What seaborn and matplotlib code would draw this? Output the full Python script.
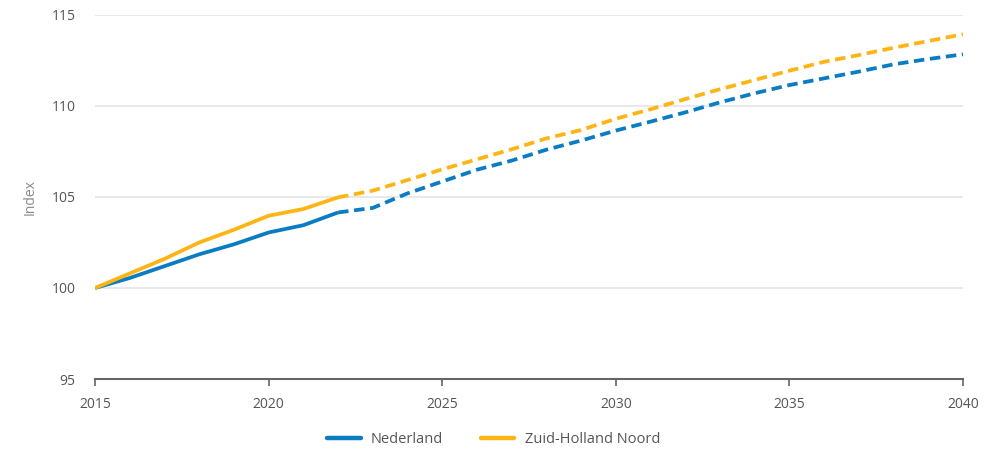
import matplotlib
matplotlib.use("Agg")
import matplotlib.pyplot as plt
from matplotlib.lines import Line2D
import seaborn as sns
import pandas as pd

# Population index (2015 = 100); observed through 2022, forecast afterwards
years = list(range(2015, 2041))
nederland = [100.0, 100.55, 101.2, 101.85, 102.4, 103.05, 103.45, 104.15,
             104.4, 105.2, 105.85, 106.5, 107.0, 107.6, 108.1, 108.65,
             109.14, 109.65, 110.2, 110.7, 111.15, 111.52, 111.89, 112.29,
             112.58, 112.84]
zuid_holland_noord = [100.0, 100.8, 101.6, 102.5, 103.2, 103.97, 104.34, 104.98,
                      105.35, 105.93, 106.52, 107.07, 107.62, 108.22, 108.68, 109.3,
                      109.82, 110.38, 110.92, 111.43, 111.94, 112.43, 112.8, 113.2,
                      113.57, 113.94]
last_observed = 2022
series_names = ["Nederland", "Zuid-Holland Noord"]
colors = {"Nederland": "#0a7cc4", "Zuid-Holland Noord": "#fdb515"}
y_ticks = [95, 100, 105, 110, 115]
x_ticks = [2015, 2020, 2025, 2030, 2035, 2040]

df = pd.concat([
    pd.DataFrame({"jaar": years, "index": nederland, "regio": "Nederland"}),
    pd.DataFrame({"jaar": years, "index": zuid_holland_noord, "regio": "Zuid-Holland Noord"}),
])
observed = df[df["jaar"] <= last_observed]
forecast = df[df["jaar"] >= last_observed]

sns.set_theme(style="white")
plt.rcParams["font.family"] = ["Open Sans", "DejaVu Sans"]

fig = plt.figure(figsize=(9.93, 4.49), dpi=100)
ax = fig.add_axes([0.0957, 0.1559, 0.8741, 0.8107])

lw = 2.7
sns.lineplot(data=observed, x="jaar", y="index", hue="regio", hue_order=series_names,
             palette=colors, linewidth=lw, legend=False, ax=ax,
             solid_capstyle="butt", solid_joinstyle="round")
sns.lineplot(data=forecast, x="jaar", y="index", hue="regio", hue_order=series_names,
             palette=colors, linewidth=lw, legend=False, ax=ax)
for line in ax.lines[2:]:
    line.set_linestyle((0, (2.8, 1.5)))
    line.set_dash_capstyle("butt")

ax.set_xlim(2015, 2040)
ax.set_ylim(95, 115)
ax.set_xticks(x_ticks)
ax.set_yticks(y_ticks)
ax.yaxis.grid(True, color="#e3e3e3", linewidth=1.1)
ax.set_axisbelow(True)

for side in ["left", "right", "top"]:
    ax.spines[side].set_visible(False)
ax.spines["bottom"].set_color("#666666")
ax.spines["bottom"].set_linewidth(1.5)

ax.tick_params(axis="x", bottom=True, direction="out", length=5, width=1.2,
               color="#666666", labelsize=10, labelcolor="#555555", pad=8)
ax.tick_params(axis="y", left=False, length=0, labelsize=10, labelcolor="#555555", pad=14)

ax.set_xlabel("")
ax.set_ylabel("Index", fontsize=10, color="#888888", labelpad=10)

handles = [Line2D([0], [0], color=colors[n], linewidth=3.2) for n in series_names]
fig.legend(handles, series_names, loc="center", bbox_to_anchor=(0.497, 0.022),
           ncol=2, frameon=False, fontsize=10.5, handlelength=2.3,
           handletextpad=0.7, columnspacing=2.6, labelcolor="#555555")

fig.savefig("out.png", dpi=100, facecolor="white")
